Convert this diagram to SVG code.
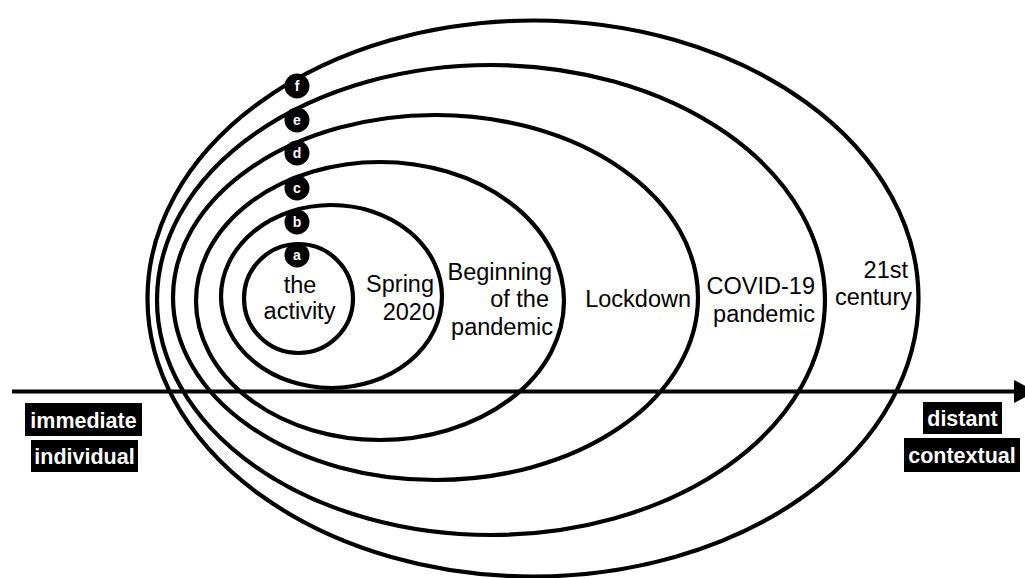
<svg xmlns="http://www.w3.org/2000/svg" width="1025" height="578" viewBox="0 0 1025 578">
<style>
.ring{fill:none;stroke:#000;stroke-width:4.2}
.lbl{font-family:"Liberation Sans",Arial,sans-serif;font-size:23.5px;fill:#000}
.end{text-anchor:end}
.mid{text-anchor:middle}
.badge{fill:#000}
.bt{font-family:"Liberation Sans",Arial,sans-serif;font-size:14px;font-weight:bold;fill:#fff;text-anchor:middle}
.box{fill:#000}
.bl{font-family:"Liberation Sans",Arial,sans-serif;font-size:21.5px;font-weight:bold;fill:#fff;text-anchor:middle}
.axis{stroke:#000;stroke-width:4.2;fill:none}
</style>
<rect width="1025" height="578" fill="#fff"/>
<g id="node-f">
<ellipse class="ring" cx="533" cy="298.5" rx="385.5" ry="278"/>
<text class="lbl end" x="908" y="278">21st</text>
<text class="lbl end" x="912" y="305">century</text>
</g>
<g id="node-e">
<ellipse class="ring" cx="491" cy="300" rx="334" ry="235"/>
<text class="lbl end" x="815" y="294">COVID-19</text>
<text class="lbl end" x="815" y="322">pandemic</text>
</g>
<g id="node-d">
<ellipse class="ring" cx="435.5" cy="297.5" rx="262.5" ry="182.5"/>
<text class="lbl end" x="691" y="307">Lockdown</text>
</g>
<g id="node-c">
<ellipse class="ring" cx="380" cy="301" rx="184" ry="139"/>
<text class="lbl end" x="552" y="280">Beginning</text>
<text class="lbl end" x="549" y="307">of the</text>
<text class="lbl end" x="553" y="335">pandemic</text>
</g>
<g id="node-b">
<ellipse class="ring" cx="331.5" cy="296.5" rx="110.5" ry="91.5"/>
<text class="lbl end" x="434" y="292">Spring</text>
<text class="lbl end" x="435" y="320">2020</text>
</g>
<g id="node-a">
<ellipse class="ring" cx="298.5" cy="298.5" rx="54.5" ry="54.5"/>
<text class="lbl mid" x="300" y="293">the</text>
<text class="lbl mid" x="299.5" y="319">activity</text>
</g>
<g id="connectors">
<line class="axis" x1="12" y1="391.5" x2="1018" y2="391.5"/>
<polygon points="1014,380 1036,391.5 1014,403" fill="#000"/>
</g>
<g id="badges">
<circle class="badge" cx="297" cy="255" r="12.5"/><text class="bt" x="297" y="260">a</text>
<circle class="badge" cx="297" cy="222" r="12.5"/><text class="bt" x="297" y="227">b</text>
<circle class="badge" cx="297" cy="188" r="12.5"/><text class="bt" x="297" y="193">c</text>
<circle class="badge" cx="297" cy="153" r="12.5"/><text class="bt" x="297" y="158">d</text>
<circle class="badge" cx="297" cy="120" r="12.5"/><text class="bt" x="297" y="125">e</text>
<circle class="badge" cx="297" cy="86" r="12.5"/><text class="bt" x="297" y="91">f</text>
</g>
<g id="label-immediate">
<rect class="box" x="25" y="403" width="117" height="33"/>
<text class="bl" x="83.5" y="428">immediate</text>
</g>
<g id="label-individual">
<rect class="box" x="31" y="440" width="107" height="32"/>
<text class="bl" x="84.5" y="464">individual</text>
</g>
<g id="label-distant">
<rect class="box" x="923" y="402" width="79" height="32"/>
<text class="bl" x="962.5" y="426">distant</text>
</g>
<g id="label-contextual">
<rect class="box" x="904" y="438" width="116" height="34"/>
<text class="bl" x="962" y="463">contextual</text>
</g>
</svg>
